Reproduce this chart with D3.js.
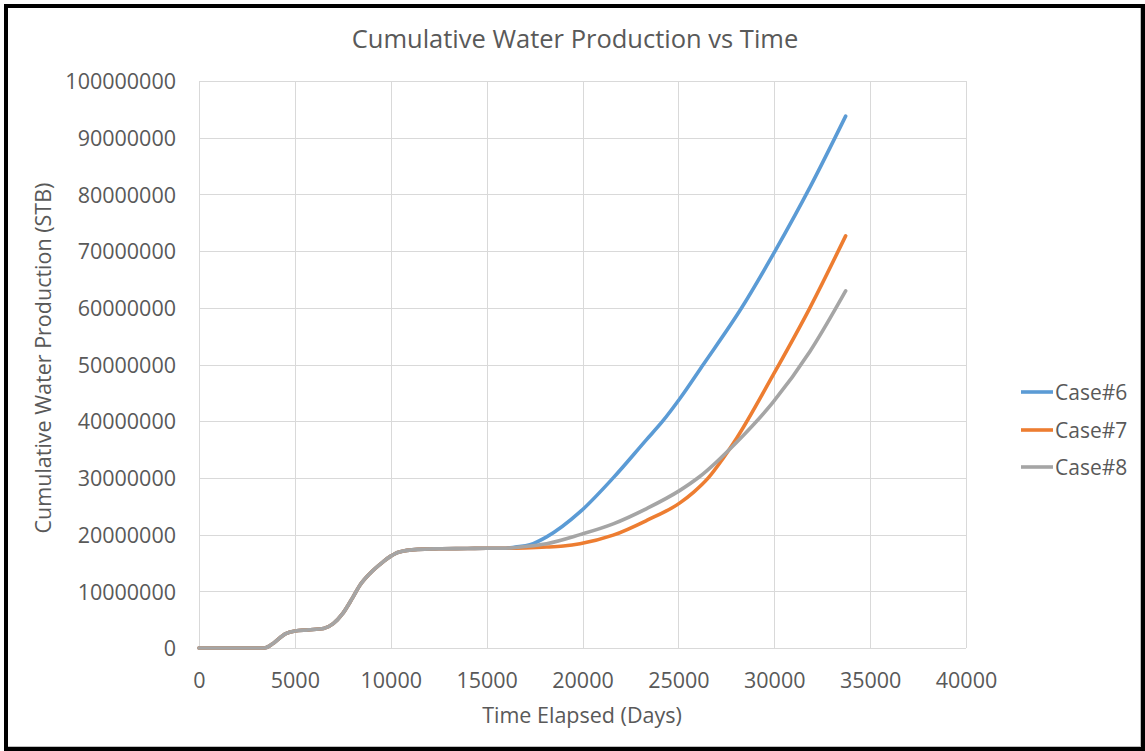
<!DOCTYPE html>
<html>
<head>
<meta charset="utf-8">
<script src="https://cdn.jsdelivr.net/npm/d3@7"></script>
<style>
  html, body { margin: 0; padding: 0; background: #fff; }
  svg { display: block; }
  text { font-family: "Open Sans", "Liberation Sans", sans-serif; fill: #595959; }
</style>
</head>
<body>
<svg id="chart" width="1145" height="751"></svg>
<script>
// ---- data ----
const chartTitle = "Cumulative Water Production vs Time";
const xTitle = "Time Elapsed (Days)";
const yTitle = "Cumulative Water Production (STB)";
const seriesNames = ["Case#6", "Case#7", "Case#8"];
const seriesColors = ["#5B9BD5", "#ED7D31", "#A5A5A5"];
const xTicks = [0, 5000, 10000, 15000, 20000, 25000, 30000, 35000, 40000];
const yTicks = [0, 10000000, 20000000, 30000000, 40000000, 50000000, 60000000, 70000000, 80000000, 90000000, 100000000];

// shared history (days, STB)
const commonDays = [0, 1000, 2000, 3000, 3400, 3900, 4500, 5000, 5700, 6500, 7000, 7500, 8000, 8400, 8900, 9600, 10000, 10400, 11400, 12500, 14000, 15000, 16000];
const commonVals = [0, 0, 0, 0, 0, 900000, 2500000, 3000000, 3200000, 3450000, 4300000, 6100000, 8800000, 11100000, 13100000, 15200000, 16200000, 16900000, 17400000, 17500000, 17550000, 17600000, 17600000];

const case6Days = [16500, 17260, 18130, 19870, 21600, 23350, 24180, 25080, 26300, 28300, 30040, 31900, 33725];
const case6Vals = [17800000, 18200000, 19600000, 24000000, 30000000, 36800000, 40000000, 44000000, 50000000, 60000000, 70000000, 81500000, 93800000];

const case7Days = [17000, 18130, 19000, 19870, 21600, 23350, 25080, 25800, 26560, 27300, 28040, 29950, 31860, 33725];
const case7Vals = [17650000, 17800000, 18000000, 18400000, 19900000, 22500000, 25600000, 27500000, 30000000, 33300000, 37000000, 48200000, 60000000, 72700000];

const case8Days = [17000, 18130, 19870, 21600, 23350, 25080, 26100, 28040, 29950, 31860, 33725];
const case8Vals = [17900000, 18400000, 20000000, 21900000, 24600000, 27800000, 30200000, 36300000, 43400000, 52300000, 63000000];

// ---- build series ----
function build(days, vals) {
  const pts = commonDays.map((d, i) => ({x: d, y: commonVals[i]}));
  days.forEach((d, i) => pts.push({x: d, y: vals[i]}));
  return pts;
}
const series = [
  build(case6Days, case6Vals),
  build(case7Days, case7Vals),
  build(case8Days, case8Vals)
];

// ---- layout ----
const svg = d3.select("#chart");
const plot = {left: 199, right: 966, top: 81, bottom: 648};

const x = d3.scaleLinear().domain([0, 40000]).range([plot.left, plot.right]);
const y = d3.scaleLinear().domain([0, 100000000]).range([plot.bottom, plot.top]);

svg.append("rect").attr("x", 0).attr("y", 0).attr("width", 1145).attr("height", 751).attr("fill", "#fff");

// gridlines
const g = svg.append("g");
g.selectAll("line.vg").data(xTicks).enter().append("line")
  .attr("x1", d => Math.round(x(d)) + 0.5).attr("x2", d => Math.round(x(d)) + 0.5)
  .attr("y1", plot.top).attr("y2", plot.bottom)
  .attr("stroke", "#d9d9d9").attr("stroke-width", 1);
g.selectAll("line.hg").data(yTicks).enter().append("line")
  .attr("x1", plot.left).attr("x2", plot.right)
  .attr("y1", d => Math.round(y(d)) + 0.5).attr("y2", d => Math.round(y(d)) + 0.5)
  .attr("stroke", "#d9d9d9").attr("stroke-width", 1);

// axes (labels via d3 axes)
const xAxis = d3.axisBottom(x).tickValues(xTicks).tickSize(0).tickPadding(0).tickFormat(d3.format("d"));
const xg = svg.append("g").attr("transform", `translate(0,${plot.bottom})`).call(xAxis);
xg.select(".domain").remove();
xg.selectAll("text").attr("font-size", 21.5).attr("dy", null).attr("y", 40)
  .style("font-family", '"Open Sans", sans-serif').attr("fill", "#595959");

const yAxis = d3.axisLeft(y).tickValues(yTicks).tickSize(0).tickPadding(0).tickFormat(d3.format("d"));
const yg = svg.append("g").attr("transform", `translate(${176},0)`).call(yAxis);
yg.select(".domain").remove();
yg.selectAll("text").attr("font-size", 21.5).attr("dy", "0.36em").attr("x", 0)
  .style("font-family", '"Open Sans", sans-serif').attr("fill", "#595959");

// lines
const line = d3.line().x(d => x(d.x)).y(d => y(d.y)).curve(d3.curveMonotoneX);
series.forEach((s, i) => {
  svg.append("path").datum(s)
    .attr("d", line)
    .attr("fill", "none")
    .attr("stroke", seriesColors[i])
    .attr("stroke-width", 3.6)
    .attr("stroke-linejoin", "round")
    .attr("stroke-linecap", "round");
});

// titles
svg.append("text").attr("x", 575).attr("y", 48).attr("text-anchor", "middle")
  .attr("font-size", 25.5).text(chartTitle);
svg.append("text").attr("x", 582).attr("y", 723).attr("text-anchor", "middle")
  .attr("font-size", 21.5).text(xTitle);
svg.append("text").attr("transform", "translate(51,358) rotate(-90)").attr("text-anchor", "middle")
  .attr("font-size", 21.5).text(yTitle);

// legend
const legY = [392, 430, 467];
seriesNames.forEach((n, i) => {
  svg.append("line").attr("x1", 1021).attr("x2", 1053)
    .attr("y1", legY[i]).attr("y2", legY[i])
    .attr("stroke", seriesColors[i]).attr("stroke-width", 3.6);
  svg.append("text").attr("x", 1055).attr("y", legY[i]).attr("dy", "0.36em")
    .attr("font-size", 21).text(n);
});

// outer frame
svg.append("rect").attr("x", 6).attr("y", 6).attr("width", 1137).attr("height", 743)
  .attr("fill", "none").attr("stroke", "#000").attr("stroke-width", 4);
svg.append("line").attr("x1", 8).attr("x2", 1141).attr("y1", 746.5).attr("y2", 746.5).attr("stroke", "#bfbfbf");
svg.append("line").attr("x1", 1140.5).attr("x2", 1140.5).attr("y1", 8).attr("y2", 746).attr("stroke", "#bfbfbf");
</script>
</body>
</html>
